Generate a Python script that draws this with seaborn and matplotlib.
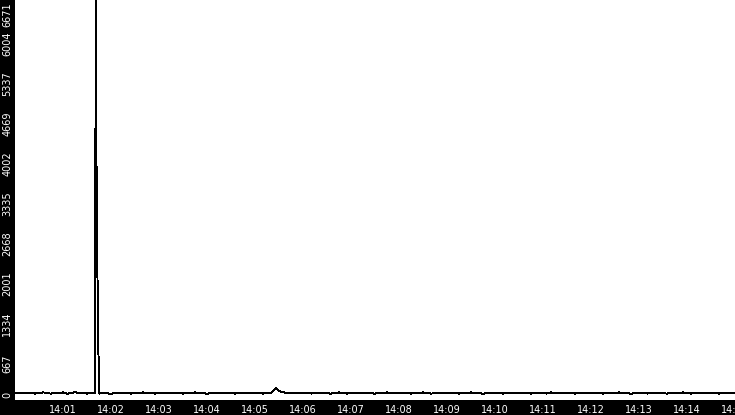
import matplotlib
matplotlib.use("Agg")
import matplotlib.pyplot as plt
import matplotlib.transforms as mtransforms
import pandas as pd
import seaborn as sns

# --- data (seconds after 14:00, value) ---
base_step = 5
base_vals = [
    115, 120, 110, 118, 125, 108, 112, 128, 116, 106,
    122, 112, 126, 104, 118, 130, 112, 120, 108, 118,
    112, 108, 118, 112, 102, 116, 124, 110, 118, 106,
    120, 114, 126, 110, 116, 108, 122, 118, 112, 124,
    110, 118, 106, 120, 114, 128, 112, 116, 104, 120,
    116, 110, 124, 112, 118, 106, 122, 114, 110, 120,
    112, 118, 108, 116, 120, 185, 150, 128, 118, 112,
    120, 110, 116, 124, 108, 118, 112, 122, 114, 106,
    118, 126, 112, 108, 120, 116, 124, 110, 118, 114,
    106, 120, 114, 128, 112, 118, 110, 122, 116, 108,
    120, 112, 126, 118, 106, 116, 122, 110, 118, 124,
    112, 108, 120, 114, 126, 110, 118, 104, 116, 122,
    114, 120, 108, 118, 112, 124, 116, 110, 122, 106,
    118, 114, 120, 108, 126, 112, 116, 122, 110, 118,
    106, 120, 114, 118, 124, 110, 116, 108, 122, 112,
    118, 126, 110, 116, 104, 120, 114, 122, 108, 118,
    112, 124, 116, 106, 120, 118, 110, 126, 114, 108,
    120, 116, 112, 124, 110, 118, 106, 122, 114, 120,
    116,
]
spike_sec = [101, 101.5, 102, 102.5, 326]
spike_vals = [7400, 6000, 3350, 2660, 205]

ytick_labels = ["0", "667", "1334", "2001", "2668", "3335",
                "4002", "4669", "5337", "6004", "6671"]
xtick_labels = ["14:01", "14:02", "14:03", "14:04", "14:05", "14:06", "14:07",
                "14:08", "14:09", "14:10", "14:11", "14:12", "14:13", "14:14", "14:15"]
y_max = 6671

sec = [i * base_step for i in range(len(base_vals))] + spike_sec
vals = base_vals + spike_vals
df = pd.DataFrame({"minute": [s / 60 for s in sec], "value": vals})
df = df.sort_values("minute")

sns.set_style("white")

fig = plt.figure(figsize=(7.35, 4.15), dpi=100, facecolor="black")
ax = fig.add_axes([15 / 735, 15 / 415, 720 / 735, 400 / 415])
ax.set_facecolor("white")

sns.lineplot(data=df, x="minute", y="value", estimator=None, sort=True,
             color="black", linewidth=0.7, antialiased=False, ax=ax)

ax.set_xlim(0, 15)
ax.set_ylim(0, y_max)
ax.set_xticks(range(1, len(xtick_labels) + 1))
ax.set_xticklabels(xtick_labels)
ax.set_yticks([y_max * i / 10 for i in range(len(ytick_labels))])
ax.set_yticklabels(ytick_labels)
ax.set_xlabel("")
ax.set_ylabel("")
for s in ax.spines.values():
    s.set_visible(False)

ax.tick_params(axis="both", colors="white", length=3, width=1, labelsize=7,
               pad=0.5, direction="out")
ax.tick_params(axis="y", labelrotation=90)

dpi_t = fig.dpi_scale_trans
labels = ax.get_yticklabels()
for lbl in labels:
    lbl.set_va("center")
    lbl.set_transform(lbl.get_transform()
                      + mtransforms.ScaledTranslation(0.02, -4 / 100, dpi_t))
labels[0].set_va("bottom")
labels[0].set_transform(labels[0].get_transform()
                        + mtransforms.ScaledTranslation(0, 6 / 100, dpi_t))
labels[-1].set_va("top")
labels[-1].set_transform(labels[-1].get_transform()
                         + mtransforms.ScaledTranslation(0, 2 / 100, dpi_t))

fig.savefig("out.png", dpi=100, facecolor="black")
